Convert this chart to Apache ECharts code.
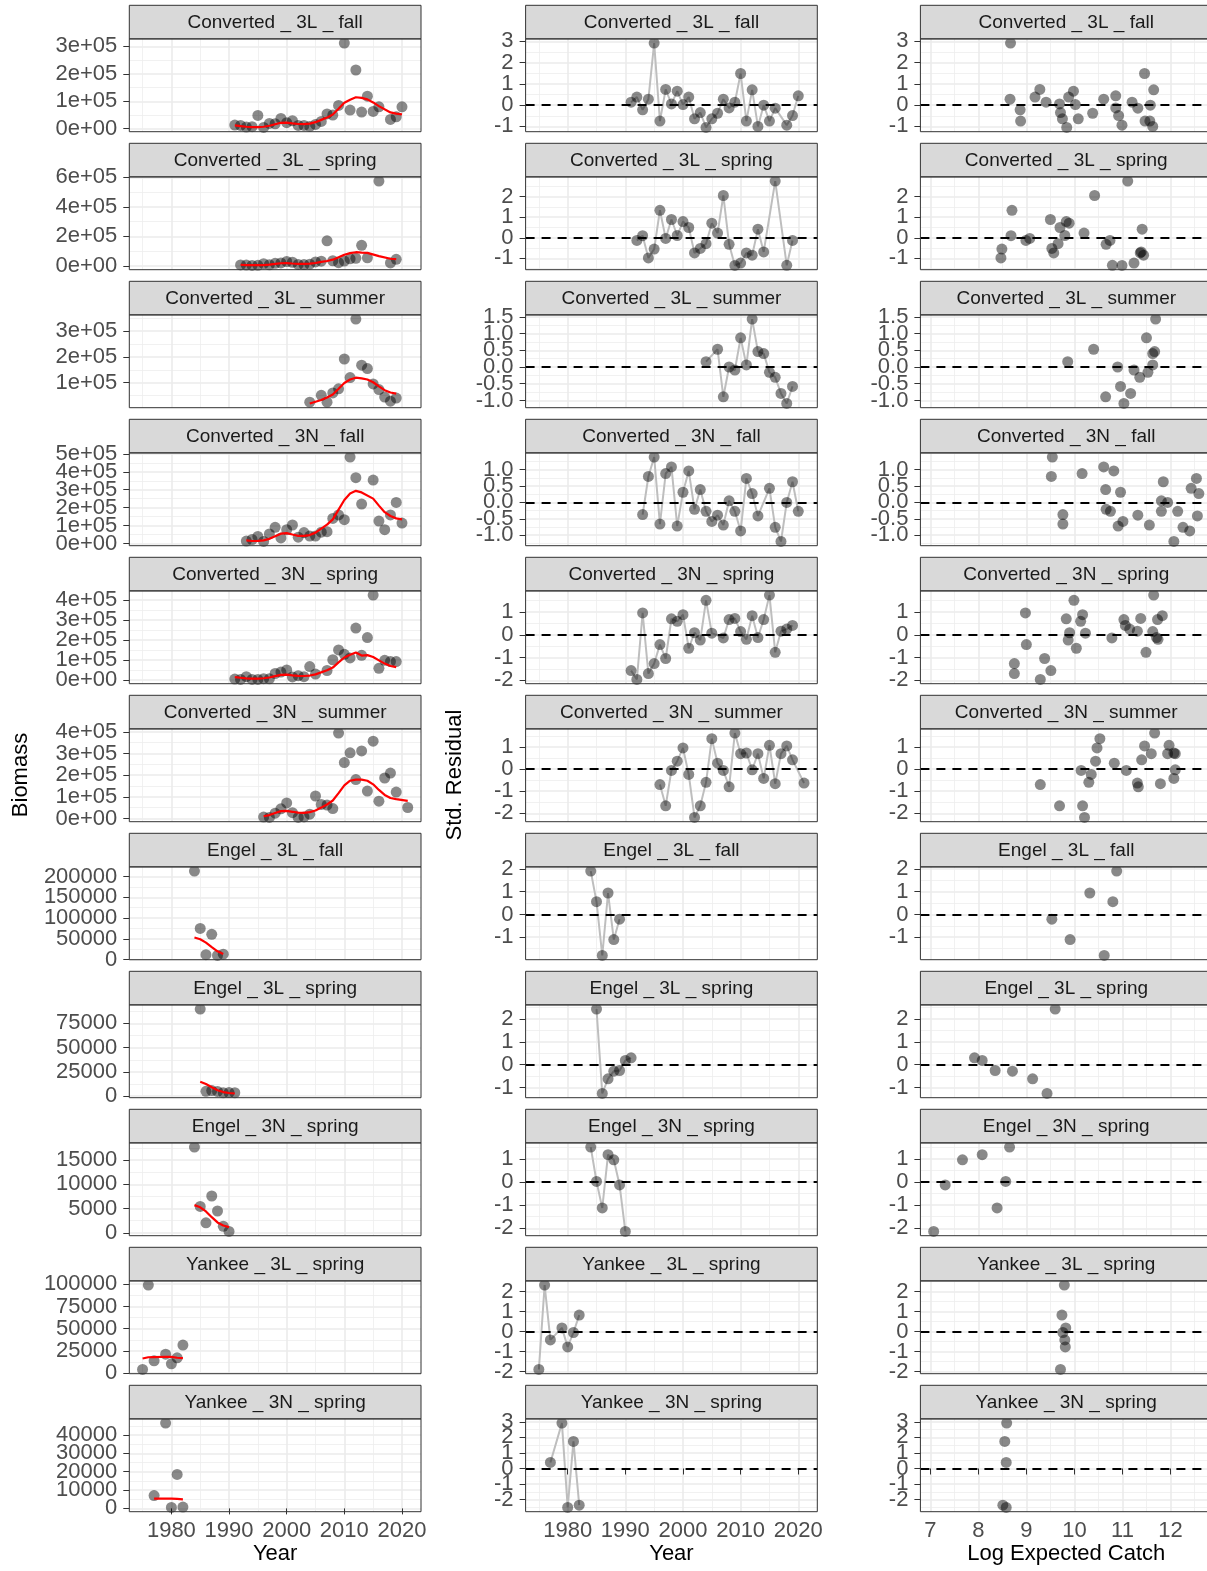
<!DOCTYPE html>
<html>
<head>
<meta charset="utf-8">
<title>Survey index fits and residuals</title>
<script src="https://cdn.jsdelivr.net/npm/echarts@6.0.0/dist/echarts.min.js"></script>
<style>
  html, body { margin: 0; padding: 0; background: #fff; }
  #main { width: 1207px; height: 1571px; }
</style>
</head>
<body>
<div id="main"></div>
<script>
// ---- data ----
var panelTitles = [
  'Converted _ 3L _ fall', 'Converted _ 3L _ spring', 'Converted _ 3L _ summer',
  'Converted _ 3N _ fall', 'Converted _ 3N _ spring', 'Converted _ 3N _ summer',
  'Engel _ 3L _ fall', 'Engel _ 3L _ spring', 'Engel _ 3N _ spring',
  'Yankee _ 3L _ spring', 'Yankee _ 3N _ spring'
];

// Converted _ 3L _ fall
var yearsC3LFall = [1991,1992,1993,1994,1995,1996,1997,1998,1999,2000,2001,2002,2003,2004,2005,2006,2007,2008,2009,2010,2011,2012,2013,2014,2015,2016,2018,2019,2020];
var biomassC3LFall = [13300,12100,6000,7300,48400,4500,19400,18100,37500,21800,29000,12100,12100,8500,15700,26600,54000,49600,84700,312000,68000,214000,60500,118500,62900,79800,33900,43500,79800];
var logExpC3LFall = [9.41,9.18,8.87,8.66,8.67,8.88,9.28,9.69,9.98,10.02,9.88,9.75,9.71,9.84,10.08,10.38,10.61,10.86,11.2,11.46,11.57,11.65,11.63,11.58,11.47,11.32,10.99,10.92,10.86];
var residC3LFall = [0.14,0.38,-0.22,0.28,2.92,-0.75,0.74,0.06,0.66,0.03,0.38,-0.64,-0.35,-1.05,-0.64,-0.38,0.28,-0.13,0.14,1.49,-0.75,0.72,-1.0,0.0,-0.75,-0.14,-0.94,-0.49,0.44];

// Converted _ 3L _ spring
var yearsC3LSpring = [1992,1993,1994,1995,1996,1997,1998,1999,2000,2001,2002,2003,2004,2005,2006,2007,2008,2009,2010,2011,2012,2013,2014,2016,2018,2019];
var biomassC3LSpring = [7000,6000,3000,4000,15000,8000,18000,20000,30000,25000,10000,9000,12000,27000,32000,170000,35000,22000,33000,48000,52000,140000,55000,575000,20000,45000];
var logExpC3LSpring = [8.99,8.68,8.47,8.49,8.7,9.07,9.5,9.8,9.83,9.7,9.57,9.53,9.66,9.89,10.2,10.42,10.66,10.99,11.24,11.37,11.44,11.41,11.39,11.11,10.79,10.74];
var residC3LSpring = [-0.13,0.1,-0.98,-0.55,1.34,-0.03,0.89,0.11,0.79,0.5,-0.74,-0.52,-0.29,0.71,0.23,2.06,-0.32,-1.35,-1.23,-0.74,-0.85,0.42,-0.69,2.76,-1.34,-0.13];

// Converted _ 3L _ summer
var yearsC3LSummer = [2004,2006,2007,2008,2009,2010,2011,2012,2013,2014,2015,2016,2017,2018,2019];
var biomassC3LSummer = [24000,51000,24000,60000,76000,192000,120000,347000,168000,155000,95000,73000,44000,28000,40000];
var logExpC3LSummer = [9.86,10.4,10.65,10.9,11.24,11.5,11.63,11.69,11.67,11.63,11.53,11.36,11.17,11.03,10.96];
var residC3LSummer = [0.16,0.53,-0.89,0.0,-0.09,0.87,0.06,1.43,0.46,0.4,-0.16,-0.31,-0.79,-1.09,-0.58];

// Converted _ 3N _ fall
var yearsC3NFall = [1993,1994,1995,1996,1997,1998,1999,2000,2001,2002,2003,2004,2005,2006,2007,2008,2009,2010,2011,2012,2013,2015,2016,2017,2018,2019,2020];
var biomassC3NFall = [13000,22000,39000,11000,53000,90000,31000,77000,103000,35000,61000,41000,41000,63000,66000,140000,159000,133000,482000,367000,220000,354000,125000,77000,159000,229000,114000];
var logExpC3NFall = [9.76,9.52,9.54,9.76,10.16,10.61,10.91,10.96,10.82,10.66,10.65,10.75,11.01,11.32,11.56,11.81,12.15,12.4,12.54,12.59,12.56,12.43,12.26,12.07,11.94,11.85,11.81];
var residC3NFall = [-0.37,0.79,1.38,-0.66,0.88,1.08,-0.72,0.31,0.96,-0.21,0.39,-0.27,-0.58,-0.39,-0.69,0.05,-0.27,-0.87,0.73,0.27,-0.41,0.43,-0.76,-1.19,0.0,0.63,-0.27];

// Converted _ 3N _ spring
var yearsC3NSpring = [1991,1992,1993,1994,1995,1996,1997,1998,1999,2000,2001,2002,2003,2004,2005,2007,2008,2009,2010,2011,2012,2013,2014,2015,2016,2017,2018,2019];
var biomassC3NSpring = [4200,2500,16000,2000,2500,6000,5500,32000,39000,50000,14800,21000,16300,67000,29000,47000,101000,150000,128000,110000,260000,123000,212000,425000,58000,98000,92000,92000];
var logExpC3NSpring = [9.51,9.29,8.98,8.75,8.75,9.0,9.38,9.83,10.13,10.17,10.04,9.9,9.87,9.99,10.23,10.78,11.03,11.38,11.63,11.74,11.83,11.71,11.73,11.65,11.49,11.31,11.15,11.06];
var residC3NSpring = [-1.57,-1.96,0.96,-1.7,-1.26,-0.43,-1.04,0.7,0.59,0.88,-0.59,0.09,-0.23,1.51,0.07,-0.14,0.67,0.72,0.14,-0.2,0.84,-0.12,0.67,1.74,-0.77,0.16,0.25,0.41];

// Converted _ 3N _ summer
var yearsC3NSummer = [1996,1997,1998,1999,2000,2001,2002,2003,2004,2005,2006,2007,2008,2009,2010,2011,2012,2013,2014,2015,2016,2017,2018,2019,2021];
var biomassC3NSummer = [7000,5000,25000,45000,72000,27000,5300,7500,20000,104000,65000,62000,46000,394000,258000,303000,180000,312000,127000,357000,80000,187000,210000,122000,51000];
var logExpC3NSummer = [9.29,9.69,10.14,10.44,10.47,10.35,10.21,10.17,10.3,10.53,10.83,11.08,11.33,11.67,11.94,12.07,12.1,12.1,12.07,11.97,11.79,11.6,11.46,11.4,11.31];
var residC3NSummer = [-0.7,-1.66,-0.06,0.36,0.96,-0.24,-2.19,-1.66,-0.6,1.38,0.27,-0.06,-0.8,1.63,0.7,0.73,-0.03,0.7,-0.42,1.08,-0.66,0.7,1.05,0.42,-0.63];

// Engel _ 3L _ fall
var yearsE3LFall = [1984,1985,1986,1987,1988,1989];
var biomassE3LFall = [213000,75000,12000,61000,10000,13000];
var logExpE3LFall = [10.88,10.8,10.62,10.32,9.91,9.53];
var residE3LFall = [1.9,0.56,-1.8,0.94,-1.1,-0.21];

// Engel _ 3L _ spring
var yearsE3LSpring = [1985,1986,1987,1988,1989,1990,1991];
var biomassE3LSpring = [89700,5000,5800,4900,3500,3700,3500];
var logExpE3LSpring = [9.6,9.43,9.13,8.71,8.35,8.08,7.92];
var residE3LSpring = [2.42,-1.25,-0.61,-0.28,-0.25,0.19,0.3];

// Engel _ 3N _ spring
var yearsE3NSpring = [1984,1985,1986,1987,1988,1989,1990];
var biomassE3NSpring = [17700,5450,2050,7600,4500,1350,270];
var logExpE3NSpring = [8.65,8.57,8.39,8.08,7.67,7.31,7.07];
var residE3NSpring = [1.52,0.03,-1.12,1.19,0.97,-0.12,-2.14];

// Yankee _ 3L _ spring
var yearsY3LSpring = [1975,1976,1977,1979,1980,1981,1982];
var biomassY3LSpring = [4100,99000,13900,21300,10500,17200,31500];
var logExpY3LSpring = [9.71,9.79,9.8,9.82,9.81,9.76,9.74];
var residY3LSpring = [-1.9,2.32,-0.42,0.18,-0.77,-0.05,0.82];

// Yankee _ 3N _ spring
var yearsY3NSpring = [1977,1979,1980,1981,1982];
var biomassY3NSpring = [7000,46500,500,18500,700];
var logExpY3NSpring = [8.58,8.59,8.58,8.55,8.51];
var residY3NSpring = [0.39,2.92,-2.51,1.74,-2.36];

// tick values
var yearTicks = [1980, 1990, 2000, 2010, 2020];
var logTicks = [7, 8, 9, 10, 11, 12];
var biomassTicks = [
  [0, 1e5, 2e5, 3e5], [0, 2e5, 4e5, 6e5], [1e5, 2e5, 3e5],
  [0, 1e5, 2e5, 3e5, 4e5, 5e5], [0, 1e5, 2e5, 3e5, 4e5], [0, 1e5, 2e5, 3e5, 4e5],
  [0, 50000, 100000, 150000, 200000], [0, 25000, 50000, 75000], [0, 5000, 10000, 15000],
  [0, 25000, 50000, 75000, 100000], [0, 10000, 20000, 30000, 40000]
];
var biomassSci = [true, true, true, true, true, true, false, false, false, false, false];
var residTicks = [
  [-1, 0, 1, 2, 3], [-1, 0, 1, 2], [-1, -0.5, 0, 0.5, 1, 1.5],
  [-1, -0.5, 0, 0.5, 1], [-2, -1, 0, 1], [-2, -1, 0, 1],
  [-1, 0, 1, 2], [-1, 0, 1, 2], [-2, -1, 0, 1],
  [-2, -1, 0, 1, 2], [-2, -1, 0, 1, 2, 3]
];

var panels = [
  [yearsC3LFall, biomassC3LFall, logExpC3LFall, residC3LFall],
  [yearsC3LSpring, biomassC3LSpring, logExpC3LSpring, residC3LSpring],
  [yearsC3LSummer, biomassC3LSummer, logExpC3LSummer, residC3LSummer],
  [yearsC3NFall, biomassC3NFall, logExpC3NFall, residC3NFall],
  [yearsC3NSpring, biomassC3NSpring, logExpC3NSpring, residC3NSpring],
  [yearsC3NSummer, biomassC3NSummer, logExpC3NSummer, residC3NSummer],
  [yearsE3LFall, biomassE3LFall, logExpE3LFall, residE3LFall],
  [yearsE3LSpring, biomassE3LSpring, logExpE3LSpring, residE3LSpring],
  [yearsE3NSpring, biomassE3NSpring, logExpE3NSpring, residE3NSpring],
  [yearsY3LSpring, biomassY3LSpring, logExpY3LSpring, residY3LSpring],
  [yearsY3NSpring, biomassY3NSpring, logExpY3NSpring, residY3NSpring]
];

// ---- layout ----
var FONT = '"Liberation Sans", Arial, Helvetica, sans-serif';
var PW = 291.7, PH = 92.8, STRIP = 33.6, PITCH = 138;
var colLeft = [129.3, 525.6, 920.4];
function stripTop(r) { return 5.3 + PITCH * r; }

function expand(vals) {
  var lo = Math.min.apply(null, vals), hi = Math.max.apply(null, vals);
  var d = (hi - lo) * 0.05;
  return [lo - d, hi + d];
}
function minorOf(ticks, range) {
  var step = ticks[1] - ticks[0], out = [];
  for (var v = ticks[0] - step; v <= ticks[ticks.length - 1] + step + 1e-9; v += step / 2) {
    var w = +v.toFixed(6);
    var isMajor = ticks.some(function (t) { return Math.abs(t - w) < 1e-9; });
    if (!isMajor && w >= range[0] && w <= range[1]) out.push(w);
  }
  return out;
}
function everyOther(ticks, start) {
  return ticks.filter(function (t, i) { return i % 2 === start; });
}
function sci(v) {
  if (v === 0) return '0e+00';
  var e = Math.floor(Math.log10(Math.abs(v)) + 1e-9);
  var m = Math.round(v / Math.pow(10, e));
  return m + 'e+' + (e < 10 ? '0' : '') + e;
}
function plain(v) { return String(v); }
function residFmt(ticks) {
  var dec = ticks.some(function (t) { return t % 1 !== 0; });
  return function (v) { return dec ? Number(v).toFixed(1) : String(v); };
}

var allYears = [], allLog = [];
panels.forEach(function (p) { allYears = allYears.concat(p[0]); allLog = allLog.concat(p[2]); });
var yearRange = expand(allYears);
var logRange = expand(allLog);

var grids = [], xAxes = [], yAxes = [], series = [], graphics = [];

function yLabelStyle(values, fmt) {
  return { show: true, customValues: values, color: '#4D4D4D', fontSize: 22,
           fontFamily: FONT, margin: 12, formatter: fmt, hideOverlap: false,
           showMinLabel: true, showMaxLabel: true };
}

function addPanel(r, c, xRange, xTicks, yRange, yTicks, yFmt) {
  var g = grids.length;
  var left = colLeft[c], top = stripTop(r) + STRIP;
  grids.push({ left: left, top: top, width: PW, height: PH, show: false,
               containLabel: false, outerBoundsMode: 'none' });
  var bottomRow = r === panels.length - 1;
  var xi = xAxes.length, yi = yAxes.length;
  xAxes.push({
    gridIndex: g, type: 'value', position: 'bottom', min: xRange[0], max: xRange[1],
    axisLine: { show: false },
    axisTick: { show: bottomRow, customValues: xTicks, length: 6, lineStyle: { color: '#333', width: 1 } },
    axisLabel: { show: bottomRow, customValues: xTicks, color: '#4D4D4D', fontSize: 22,
                 fontFamily: FONT, margin: 8, formatter: plain, hideOverlap: false,
                 showMinLabel: true, showMaxLabel: true },
    splitLine: { show: true, lineStyle: { color: '#EBEBEB', width: 1.6 } }
  });
  xAxes.push({
    gridIndex: g, type: 'value', position: 'top', min: xRange[0], max: xRange[1],
    axisLine: { show: false },
    axisTick: { show: false, customValues: minorOf(xTicks, xRange) },
    axisLabel: { show: false },
    splitLine: { show: true, lineStyle: { color: '#EEEEEE', width: 0.8 } }
  });
  // y: ticks, major grid and every other label
  yAxes.push({
    gridIndex: g, type: 'value', position: 'left', min: yRange[0], max: yRange[1],
    axisLine: { show: false },
    axisTick: { show: true, customValues: yTicks, length: 6, lineStyle: { color: '#333', width: 1 } },
    axisLabel: yLabelStyle(everyOther(yTicks, 0), yFmt),
    splitLine: { show: true, lineStyle: { color: '#EBEBEB', width: 1.6 } }
  });
  // y: the remaining labels (kept on a second axis so none get dropped)
  yAxes.push({
    gridIndex: g, type: 'value', position: 'left', offset: 0, min: yRange[0], max: yRange[1],
    axisLine: { show: false },
    axisTick: { show: false, customValues: everyOther(yTicks, 1) },
    axisLabel: yLabelStyle(everyOther(yTicks, 1), yFmt),
    splitLine: { show: false }
  });
  // y: minor grid
  yAxes.push({
    gridIndex: g, type: 'value', position: 'right', min: yRange[0], max: yRange[1],
    axisLine: { show: false },
    axisTick: { show: false, customValues: minorOf(yTicks, yRange) },
    axisLabel: { show: false },
    splitLine: { show: true, lineStyle: { color: '#EEEEEE', width: 0.8 } }
  });
  // strip and panel border
  graphics.push({ type: 'rect', silent: true, z: 100,
    shape: { x: left, y: stripTop(r), width: PW, height: STRIP },
    style: { fill: '#D9D9D9', stroke: '#333', lineWidth: 1 } });
  graphics.push({ type: 'text', silent: true, z: 101,
    x: left + PW / 2, y: stripTop(r) + STRIP / 2 + 1,
    style: { text: panelTitles[r], fill: '#1A1A1A', fontSize: 19, fontFamily: FONT,
             align: 'center', verticalAlign: 'middle', textAlign: 'center', textVerticalAlign: 'middle' } });
  graphics.push({ type: 'rect', silent: true, z: 100,
    shape: { x: left, y: top, width: PW, height: PH },
    style: { fill: 'rgba(0,0,0,0)', stroke: '#333', lineWidth: 1 } });
  return { x: xi, y: yi };
}

var pointStyle = { color: 'rgba(0,0,0,0.58)', borderWidth: 0 };
var zeroLine = {
  silent: true, symbol: ['none', 'none'], label: { show: false },
  lineStyle: { color: '#000', type: [9, 7], width: 2 },
  data: [{ yAxis: 0 }]
};

panels.forEach(function (p, r) {
  var years = p[0], biomass = p[1], logExp = p[2], resid = p[3];
  var fitted = logExp.map(function (v) { return Math.exp(v); });

  // column 1: observed biomass with fitted line
  var bTicks = biomassTicks[r];
  var bRange = expand(biomass.concat(fitted));
  var a = addPanel(r, 0, yearRange, yearTicks, bRange, bTicks, biomassSci[r] ? sci : plain);
  series.push({ type: 'scatter', xAxisIndex: a.x, yAxisIndex: a.y, symbolSize: 11, z: 3,
    itemStyle: pointStyle, data: years.map(function (y, i) { return [y, biomass[i]]; }) });
  series.push({ type: 'line', xAxisIndex: a.x, yAxisIndex: a.y, showSymbol: false, z: 4,
    lineStyle: { color: '#FF0000', width: 2.2 }, itemStyle: { color: '#FF0000' },
    data: years.map(function (y, i) { return [y, fitted[i]]; }) });

  // column 2: residuals by year
  var rTicks = residTicks[r];
  var rRange = expand(resid.concat([0]));
  var b = addPanel(r, 1, yearRange, yearTicks, rRange, rTicks, residFmt(rTicks));
  series.push({ type: 'line', xAxisIndex: b.x, yAxisIndex: b.y, showSymbol: false, z: 2,
    lineStyle: { color: '#BEBEBE', width: 2 }, itemStyle: { color: '#BEBEBE' },
    markLine: zeroLine,
    data: years.map(function (y, i) { return [y, resid[i]]; }) });
  series.push({ type: 'scatter', xAxisIndex: b.x, yAxisIndex: b.y, symbolSize: 11, z: 3,
    itemStyle: pointStyle, data: years.map(function (y, i) { return [y, resid[i]]; }) });

  // column 3: residuals by log expected catch
  var c = addPanel(r, 2, logRange, logTicks, rRange, rTicks, residFmt(rTicks));
  series.push({ type: 'scatter', xAxisIndex: c.x, yAxisIndex: c.y, symbolSize: 11, z: 3,
    itemStyle: pointStyle, markLine: zeroLine,
    data: logExp.map(function (x, i) { return [x, resid[i]]; }) });
});

// axis titles
function title(text, x, y, rot) {
  graphics.push({ type: 'text', silent: true, z: 101, x: x, y: y, rotation: rot || 0,
    style: { text: text, fill: '#000', fontSize: 22, fontFamily: FONT,
             align: 'center', verticalAlign: 'middle', textAlign: 'center', textVerticalAlign: 'middle' } });
}
title('Biomass', 21, 775, Math.PI / 2);
title('Std. Residual', 455, 775, Math.PI / 2);
title('Year', colLeft[0] + PW / 2, 1554);
title('Year', colLeft[1] + PW / 2, 1554);
title('Log Expected Catch', colLeft[2] + PW / 2, 1554);

var chart = echarts.init(document.getElementById('main'));
chart.setOption({
  animation: false,
  backgroundColor: '#fff',
  grid: grids,
  xAxis: xAxes,
  yAxis: yAxes,
  series: series,
  graphic: graphics
});
</script>
</body>
</html>
